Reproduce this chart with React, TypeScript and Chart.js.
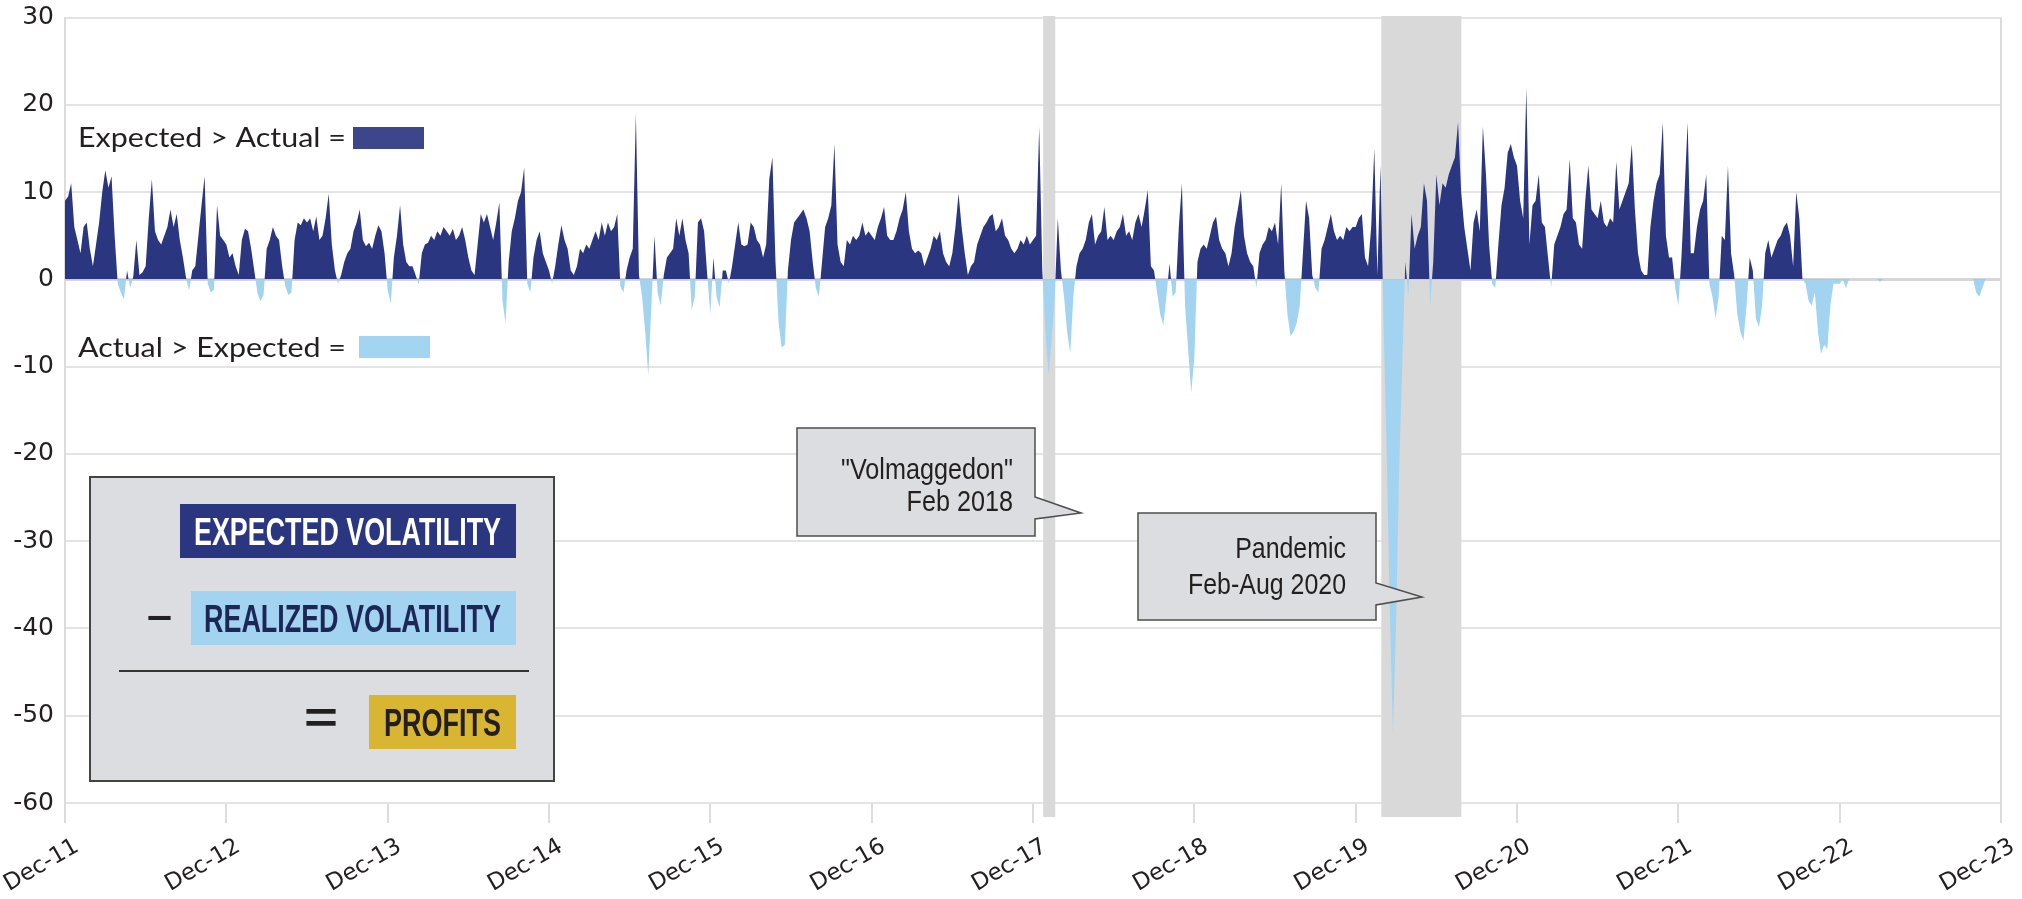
import React, { useEffect, useRef } from "react";
import { Chart, registerables } from "chart.js";

Chart.register(...registerables);

// ---------- DATA ----------
const tickLabels = ["Dec-11", "Dec-12", "Dec-13", "Dec-14", "Dec-15", "Dec-16", "Dec-17", "Dec-18", "Dec-19", "Dec-20", "Dec-21", "Dec-22", "Dec-23"];
const axisStart = 2011.917; // Dec 2011

// weekly values of Expected minus Realized volatility, one array per year (Dec -> Dec)
const y2012 = [9, 9.5, 11, 6, 4.5, 3, 6, 6.5, 3.5, 1.5, 4, 6.5, 10, 12.5, 10.5, 11.8, 5, -0.5, -1.5, -2.3, 1, -1, 0.3, 4.5, 0.5, 0.8, 1.5, 7, 11.5, 5.5, 4.5, 4, 5, 6, 8, 6, 7.5, 4.5, 2.5, 0.2, -1.3, 1, 1.5, 5, 8.5, 11.8, -0.5, -1.5, -1.2, 8.5, 5, 4.5];
const y2013 = [4, 2.5, 3, 1.5, 0.5, 4.5, 5.8, 5.5, 3.5, 1, -1.5, -2.5, -1.8, 3.5, 4.5, 6, 5, 4.5, 1.5, -0.8, -1.8, -1.5, 4.5, 6.5, 6.2, 7, 6.5, 7, 5.5, 7.2, 4.5, 5, 7, 9.8, 4, 1, -0.5, 0.5, 2, 3, 3.5, 5.5, 6.5, 8, 4.5, 3.8, 4.2, 3.5, 5, 6.2, 5.5, 3];
const y2014 = [-1.2, -2.8, 2.5, 5, 8.5, 4, 2, 1.5, 1.5, 0.5, -0.6, 3, 4, 4.2, 5, 4.5, 5.5, 5, 6, 5.5, 5, 5.8, 4.5, 5, 6, 4.5, 2.5, 1, 0.5, 4, 7.5, 6.5, 7.5, 6, 4.5, 6.5, 8.8, -2.5, -5, 2, 5.5, 7, 9, 10, 12.8, -0.5, -1.5, 2.5, 4.5, 5.5, 3, 2];
const y2015 = [1, -0.5, 1.5, 4, 6.2, 4.5, 3.5, 1, 0.5, 1.5, 3.5, 3, 4, 3.5, 4.5, 5.5, 4.5, 6.5, 5, 6.5, 5.5, 6, 7.5, -0.8, -1.5, 1, 2.5, 3.5, 19, 0.5, -2, -6, -11, -3, 5, -1.5, -3, 0.5, 2.5, 3, 3.5, 7, 5, 7, 4.5, 3, -3.5, -2, 6.5, 7, 5.5, 0.5];
const y2016 = [-4, 2.5, -2, -3.2, 1, 1, -0.5, 1.5, 4, 6.5, 4, 3.8, 4, 6.5, 6, 4.5, 4, 2.5, 4, 11.5, 14, 2, -5, -7.8, -7.5, 1, 4.5, 6.5, 7, 7.5, 8, 7, 5.5, 2, -1, -2, 2, 6, 7, 8.5, 15.5, 4, 2, 1.5, 4.5, 4, 5, 4.5, 5, 6.5, 5, 5.5];
const y2017 = [5, 4.5, 6, 7, 8.3, 5, 4.5, 4.5, 5.5, 7, 8, 10, 5.5, 3.5, 3, 3.3, 3, 1.5, 2.5, 3.5, 5, 4.5, 5.5, 3, 2, 1.5, 3, 6, 9.8, 6, 3, 0.5, 1.5, 2, 4, 5, 6, 6.5, 7.2, 7.5, 5.5, 6, 7, 5, 4.5, 3.5, 3, 3.5, 4.5, 4, 5, 4];
const y2018 = [4.5, 5, 17.5, 1, -6, -11, -7, -2, 7, 1, -2, -6, -8.5, -2, 1.5, 3, 3.5, 4.5, 6.5, 7.5, 4, 5, 5.5, 8.3, 4.5, 5, 4.5, 5.5, 6, 7.5, 5, 5.5, 4.5, 6.5, 7.5, 6, 8, 10.2, 1.5, 1, -1.5, -4, -5.3, -2, 1.8, -2, -1.5, 6, 11, -3, -8, -13];
const y2019 = [-9, 2, 3.5, 4, 3.5, 5, 6.5, 7.2, 4.5, 3.5, 3, 1.5, 3, 6, 8, 10.2, 5, 3, 2, 1.5, -1, 3, 4, 4.5, 6, 5.5, 6.5, 4, 11, 1, -4, -6.5, -6, -5, -3, 3, 9, 7, 0.5, -1, -1.5, 3.5, 4.5, 6, 7.5, 5.5, 4.5, 5, 4.5, 6, 5.5, 6];
const y2020 = [6, 7, 7.5, 2.5, 1.5, 6, 15, 0.5, 13, -5, -20, -38, -52, -40, -22, -10, 2, -2, 7.5, 3.5, 5, 6, 11, 9, -3, 2, 12, 8.5, 11, 10.5, 12, 13, 14, 18, 10, 6, 3.5, 1, 6.5, 8, 5.5, 17.5, 12, 4, -0.5, -1, 4, 8.5, 10.5, 14.5, 15.5, 14];
const y2021 = [13, 9, 7, 22, 4, 8.5, 9, 12, 6.5, 6, 2.5, -1, 4, 5, 6, 7.5, 8, 13.8, 7, 6.5, 4, 3.5, 9, 13, 8, 7.5, 7, 9, 6.5, 6, 7, 6.5, 13.5, 8, 9, 10, 11, 15.5, 8, 3, 1, 0.5, 0.5, 6, 9, 11, 12, 18, 5, 2.5, 2.5, -1];
const y2022 = [-3, 2.5, 10, 18, 3, 3, 6, 8, 9, 12, -0.5, -2, -4.5, -2, 5, 4.5, 13, 3, 0.5, -4, -6, -7, -3, 2.5, 1, -4.5, -5.5, -3, 3, 4.5, 2.5, 3.5, 4.5, 5, 6, 6.5, 5, 1.5, 10, 7, 0, -0.5, -2.5, -3, -1.5, -6, -8.5, -7.5, -8, -3, -0.5, -0.5];
const y2023 = [-0.5, 0, -1, 0, 0, 0, 0, 0, 0, 0, 0, 0, 0, -0.3, 0, 0, 0, 0, 0, 0, 0, 0, 0, 0, 0, 0, 0, 0, 0, 0, 0, 0, 0, 0, 0, 0, 0, 0, 0, 0, 0, 0, 0, 0, -1.5, -2, -1, 0, 0, 0, 0, 0];
const lastValue = 0;

const weeklyByYear = [y2012, y2013, y2014, y2015, y2016, y2017, y2018, y2019, y2020, y2021, y2022, y2023];

const shadedFrom = [2017.98, 2020.076];
const shadedTo = [2018.055, 2020.572];

const legendAbove = "Expected > Actual =";
const legendBelow = "Actual > Expected =";
const formulaTerms = ["EXPECTED VOLATILITY", "REALIZED VOLATILITY", "PROFITS"];
const calloutVolmageddon = ['"Volmaggedon"', "Feb 2018"];
const calloutPandemic = ["Pandemic", "Feb-Aug 2020"];

// ---------- COLOURS ----------
const NAVY = "#2b3681";
const LIGHT = "#a2d4f2";
const TEXT = "#231f20";
const AXIS_FONT = '"DejaVu Sans", Lato, sans-serif';

function fitText(ctx: CanvasRenderingContext2D, text: string, x: number, y: number, width: number, font: string, align: CanvasTextAlign, color: string, baseline: CanvasTextBaseline = "alphabetic") {
  ctx.save();
  ctx.font = font;
  const w = ctx.measureText(text).width;
  const s = width / w;
  ctx.translate(x, y);
  ctx.scale(s, 1);
  ctx.textAlign = align;
  ctx.textBaseline = baseline;
  ctx.fillStyle = color;
  ctx.fillText(text, 0, 0);
  ctx.restore();
}

function drawLinesScaled(ctx: CanvasRenderingContext2D, lines: string[], rightX: number, baselines: number[], font: string, refIndex: number, refWidth: number) {
  ctx.save();
  ctx.font = font;
  const s = refWidth / ctx.measureText(lines[refIndex]).width;
  ctx.fillStyle = TEXT;
  ctx.textAlign = "right";
  ctx.textBaseline = "alphabetic";
  lines.forEach((ln, i) => {
    ctx.save();
    ctx.translate(rightX, baselines[i]);
    ctx.scale(s, 1);
    ctx.fillText(ln, 0, 0);
    ctx.restore();
  });
  ctx.restore();
}

function callout(ctx: CanvasRenderingContext2D, pts: number[][]) {
  ctx.save();
  ctx.beginPath();
  pts.forEach((p, i) => (i === 0 ? ctx.moveTo(p[0], p[1]) : ctx.lineTo(p[0], p[1])));
  ctx.closePath();
  ctx.fillStyle = "#dcdde0";
  ctx.fill();
  ctx.strokeStyle = "#4d4d4d";
  ctx.lineWidth = 1.5;
  ctx.stroke();
  ctx.restore();
}

const overlayPlugin = {
  id: "overlay",
  beforeDatasetsDraw(chart: any) {
    const { ctx, chartArea, scales } = chart;
    ctx.save();
    ctx.fillStyle = "#d9d9d9";
    shadedFrom.forEach((f, i) => {
      const x1 = scales.x.getPixelForValue(f);
      const x2 = scales.x.getPixelForValue(shadedTo[i]);
      ctx.fillRect(x1, chartArea.top - 1.5, x2 - x1, chartArea.bottom - chartArea.top + 15.5);
    });
    ctx.restore();
  },
  afterDraw(chart: any) {
    const { ctx, chartArea } = chart;
    // right border
    ctx.save();
    ctx.strokeStyle = "#dcdcdc";
    ctx.lineWidth = 2;
    ctx.beginPath();
    ctx.moveTo(chartArea.right, chartArea.top);
    ctx.lineTo(chartArea.right, chartArea.bottom + 20);
    ctx.stroke();
    ctx.restore();

    // legend texts
    const lfont = '26px Lato, "DejaVu Sans", sans-serif';
    fitText(ctx, legendAbove, 78, 147, 268, lfont, "left", TEXT);
    ctx.fillStyle = "#3d468b";
    ctx.fillRect(353, 127, 71, 22);
    fitText(ctx, legendBelow, 78, 357, 268, lfont, "left", TEXT);
    ctx.fillStyle = "#a3d5f3";
    ctx.fillRect(359, 336, 71, 22);

    // formula box
    ctx.save();
    ctx.fillStyle = "#dcdde0";
    ctx.fillRect(90, 477, 464, 304);
    ctx.strokeStyle = "#444";
    ctx.lineWidth = 2;
    ctx.strokeRect(90, 477, 464, 304);
    const bfont = 'bold 39px "Liberation Sans Narrow", "Liberation Sans", Arial, sans-serif';
    ctx.fillStyle = NAVY;
    ctx.fillRect(180, 504, 336, 54);
    fitText(ctx, formulaTerms[0], 347.5, 545, 307, bfont, "center", "#ffffff");
    ctx.fillStyle = LIGHT;
    ctx.fillRect(191, 591, 325, 54);
    fitText(ctx, formulaTerms[1], 352.5, 632, 297, bfont, "center", "#1c2657");
    ctx.fillStyle = "#d8b631";
    ctx.fillRect(369, 695, 147, 54);
    fitText(ctx, formulaTerms[2], 442.5, 736, 117, bfont, "center", TEXT);
    fitText(ctx, "\u2013", 159.5, 618, 25, 'bold 40px "Liberation Sans", Arial, sans-serif', "center", TEXT, "middle");
    fitText(ctx, "=", 321, 721, 34, 'bold 44px "Liberation Sans", Arial, sans-serif', "center", TEXT, "middle");
    ctx.strokeStyle = "#333";
    ctx.lineWidth = 2;
    ctx.beginPath();
    ctx.moveTo(119, 671);
    ctx.lineTo(529, 671);
    ctx.stroke();
    ctx.restore();

    // callouts
    const cfont = '29px "Liberation Sans Narrow", "Liberation Sans", Arial, sans-serif';
    callout(ctx, [[797, 428], [1035, 428], [1035, 497], [1081, 513], [1035, 519], [1035, 536], [797, 536]]);
    drawLinesScaled(ctx, calloutVolmageddon, 1013, [479, 511], cfont, 0, 172);
    callout(ctx, [[1138, 513], [1376, 513], [1376, 583], [1422, 597], [1376, 605], [1376, 620], [1138, 620]]);
    drawLinesScaled(ctx, calloutPandemic, 1346, [558, 594], cfont, 1, 158);
  },
};

export default function App() {
  const ref = useRef<HTMLCanvasElement | null>(null);
  useEffect(() => {
    if (!ref.current) return;
    const points: { x: number; y: number }[] = [];
    weeklyByYear.forEach((vals, yi) => vals.forEach((v, k) => points.push({ x: axisStart + yi + k / vals.length, y: v })));
    points.push({ x: axisStart + weeklyByYear.length, y: lastValue });

    const chart = new Chart(ref.current, {
      type: "line",
      data: {
        datasets: [
          {
            data: points,
            borderWidth: 0,
            pointRadius: 0,
            tension: 0,
            fill: { target: "origin", above: NAVY, below: LIGHT },
            backgroundColor: NAVY,
          } as any,
        ],
      },
      options: {
        responsive: false,
        devicePixelRatio: 1,
        animation: false,
        events: [],
        layout: { padding: { left: 0, top: 17.5, right: 21, bottom: 0 } },
        plugins: { legend: { display: false }, tooltip: { enabled: false } },
        scales: {
          x: {
            type: "linear",
            min: axisStart,
            max: axisStart + tickLabels.length - 1,
            afterBuildTicks: (scale: any) => {
              scale.ticks = tickLabels.map((_, i) => ({ value: axisStart + i }));
            },
            afterFit: (scale: any) => {
              scale.height = 96;
              scale.paddingLeft = 0;
              scale.paddingRight = 0;
            },
            ticks: {
              autoSkip: false,
              minRotation: 30,
              maxRotation: 30,
              padding: 10,
              labelOffset: 12,
              color: TEXT,
              font: { family: AXIS_FONT, size: 23 },
              callback: (_v: any, i: number) => tickLabels[i],
            },
            grid: { drawOnChartArea: false, drawTicks: true, tickLength: 20, color: "#dcdcdc", lineWidth: 2 },
            border: { display: false },
          },
          y: {
            min: -60,
            max: 30,
            afterFit: (scale: any) => {
              scale.width = 65;
              scale.paddingTop = 0;
              scale.paddingBottom = 0;
            },
            ticks: {
              stepSize: 10,
              padding: 11,
              color: TEXT,
              font: { family: AXIS_FONT, size: 25 },
            },
            grid: {
              drawTicks: false,
              color: (c: any) => (c.tick && c.tick.value === 0 ? "#d6d6d6" : "#e4e4e4"),
              lineWidth: (c: any) => (c.tick && c.tick.value === 0 ? 3 : 2),
            },
            border: { display: true, color: "#dcdcdc", width: 2 },
          },
        },
      } as any,
      plugins: [overlayPlugin],
    });
    if ((document as any).fonts && (document as any).fonts.ready) {
      (document as any).fonts.ready.then(() => chart.draw());
    }
    return () => chart.destroy();
  }, []);

  return (
    <div style={{ position: "absolute", left: 0, top: 0, width: 2022, height: 899, background: "#ffffff" }}>
      <canvas ref={ref} width={2022} height={899} style={{ display: "block" }} />
    </div>
  );
}
